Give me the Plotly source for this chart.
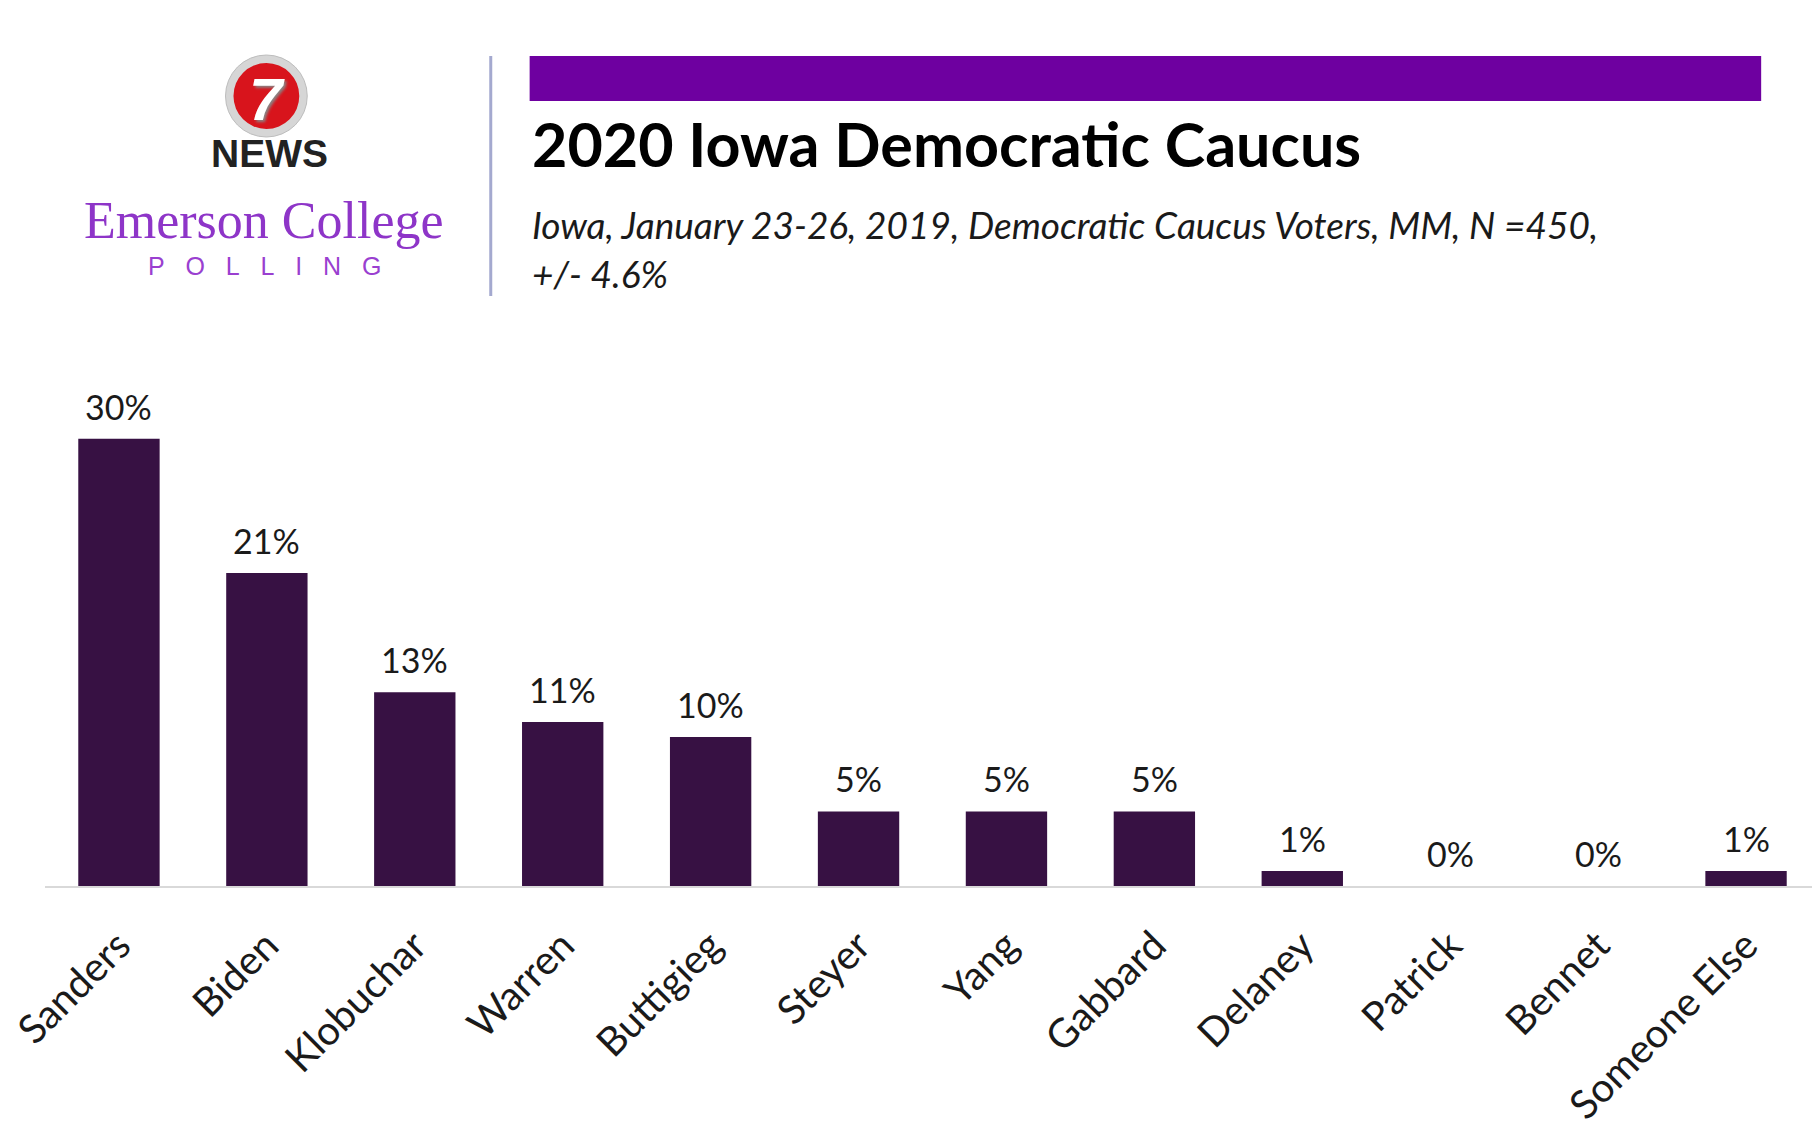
import plotly.graph_objects as go

# poll data
CANDIDATES = ['Sanders', 'Biden', 'Klobuchar', 'Warren', 'Buttigieg', 'Steyer',
              'Yang', 'Gabbard', 'Delaney', 'Patrick', 'Bennet', 'Someone Else']
SUPPORT = [30, 21, 13, 11, 10, 5, 5, 5, 1, 0, 0, 1]

TITLE = '2020 Iowa Democratic Caucus'
SUBTITLE_1 = 'Iowa, January 23-26, 2019, Democratic Caucus Voters, MM, N =450,'
SUBTITLE_2 = '+/- 4.6%'

BAR_COLOR = '#371143'
HEADER_PURPLE = '#6E00A0'
LOGO_PURPLE = '#8E35C8'
FONT = 'Lato'

# canvas / margins (pixels); the page adds an offset
OFF_X, OFF_Y = 13, 8
W, H = 1812, 1132
ML, MR, MT, MB = 32, 0, 401, 254


def px_x(p):
    # p is a page pixel position
    return (p - OFF_X - ML) / (W - ML - MR)


def px_y(p):
    return (H - MB - (p - OFF_Y)) / (H - MT - MB)


fig = go.Figure()
fig.add_trace(go.Bar(x=CANDIDATES, y=SUPPORT, marker=dict(color=BAR_COLOR, line=dict(width=0)),
                     hoverinfo='x+y', showlegend=False))

# value labels above bars
annotations = []
for cand, val in zip(CANDIDATES, SUPPORT):
    annotations.append(dict(x=cand, y=val, xref='x', yref='y', text=f'{val}%', showarrow=False,
                            yanchor='bottom', yshift=10, font=dict(family=FONT, size=34, color='#1a1a1a')))

# header texts
annotations += [
    dict(x=px_x(531), y=px_y(143), xref='paper', yref='paper', text=f'<b>{TITLE}</b>', showarrow=False,
         xanchor='left', yanchor='middle', font=dict(family=FONT, size=61, color='black')),
    dict(x=px_x(531), y=px_y(225), xref='paper', yref='paper', text=SUBTITLE_1, showarrow=False,
         xanchor='left', yanchor='middle', font=dict(family=FONT, size=37, color='#1a1a1a', style='italic')),
    dict(x=px_x(531), y=px_y(273), xref='paper', yref='paper', text=SUBTITLE_2, showarrow=False,
         xanchor='left', yanchor='middle', font=dict(family=FONT, size=37, color='#1a1a1a', style='italic')),
    # logo texts
    dict(x=px_x(268), y=px_y(99), xref='paper', yref='paper', text='<b><i>7</i></b>', showarrow=False,
         xanchor='center', yanchor='middle',
         font=dict(family='Liberation Sans', size=60, color='white', shadow='2px 2px 3px #888')),
    dict(x=px_x(270), y=px_y(153), xref='paper', yref='paper', text='<b>NEWS</b>', showarrow=False,
         xanchor='center', yanchor='middle', font=dict(family='Liberation Sans', size=39, color='#222222')),
    dict(x=px_x(265), y=px_y(220), xref='paper', yref='paper', text='Emerson College', showarrow=False,
         xanchor='center', yanchor='middle', font=dict(family='Liberation Serif', size=52, color=LOGO_PURPLE)),
    dict(x=px_x(265), y=px_y(266), xref='paper', yref='paper',
         text='\u2002\u2004'.join('POLLING'), showarrow=False,
         xanchor='center', yanchor='middle', font=dict(family='Liberation Sans', size=25, color='#9A3FD0')),
]

shapes = [
    # purple header bar
    dict(type='rect', xref='paper', yref='paper', x0=px_x(531), x1=px_x(1766), y0=px_y(56), y1=px_y(101),
         fillcolor=HEADER_PURPLE, line=dict(width=0), layer='below'),
    # separator
    dict(type='line', xref='paper', yref='paper', x0=px_x(492), x1=px_x(492), y0=px_y(56), y1=px_y(296),
         line=dict(color='#A4A9CF', width=3)),
    # 7 news badge
    dict(type='circle', xref='paper', yref='paper', x0=px_x(267 - 41), x1=px_x(267 + 41),
         y0=px_y(96 - 41), y1=px_y(96 + 41), fillcolor='#D6D6D6', line=dict(color='#BDBDBD', width=1),
         layer='below'),
    dict(type='circle', xref='paper', yref='paper', x0=px_x(267 - 33), x1=px_x(267 + 33),
         y0=px_y(96 - 33), y1=px_y(96 + 33), fillcolor='#D8141C', line=dict(width=0), layer='below'),
]

fig.update_layout(
    width=W, height=H,
    margin=dict(l=ML, r=MR, t=MT, b=MB),
    paper_bgcolor='white', plot_bgcolor='white',
    bargap=0.45,
    annotations=annotations,
    shapes=shapes,
    font=dict(family=FONT),
)
fig.update_xaxes(tickangle=-45, tickfont=dict(family=FONT, size=40, color='#1a1a1a'),
                 showline=True, linecolor='#D9D9D9', linewidth=2, ticks='', showgrid=False,
                 ticklabelstandoff=18)
fig.update_yaxes(range=[0, 32], visible=False, showgrid=False, zeroline=False)

fig.write_html('out.html')
